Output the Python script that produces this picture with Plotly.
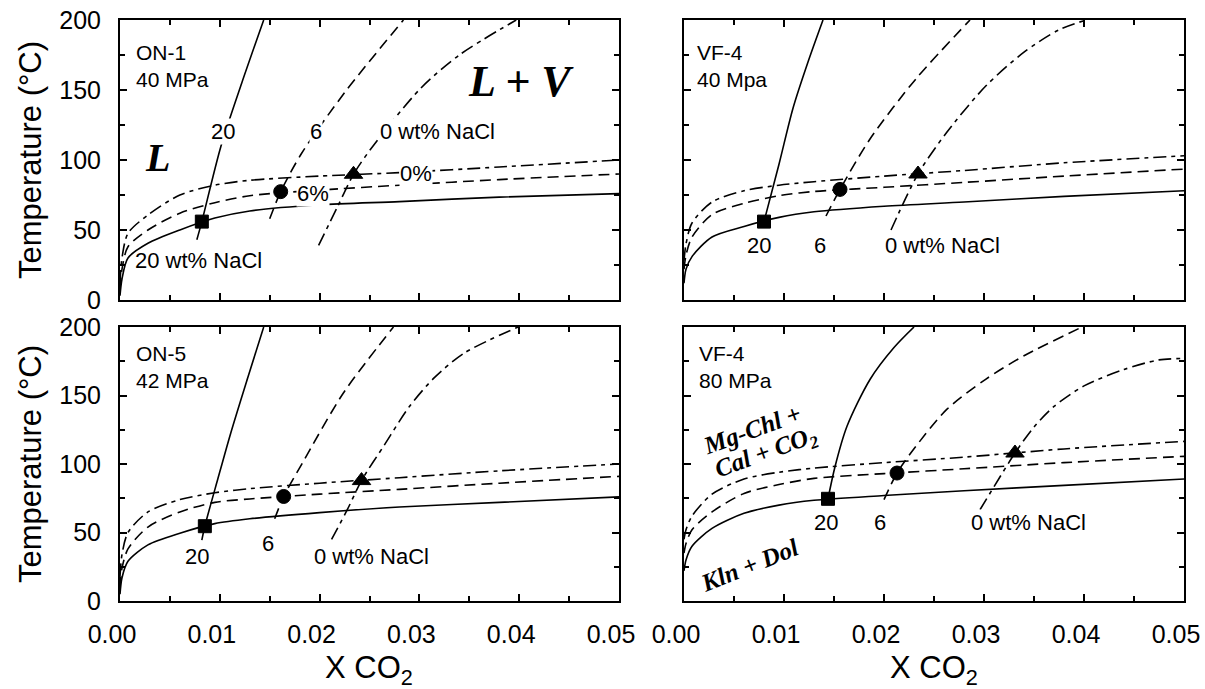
import plotly.graph_objects as go

# ---------------- data ----------------
# common X CO2 grid for the lower (reaction) curves
xb = [0.0, 0.0002, 0.0008, 0.0028, 0.006, 0.0095, 0.013, 0.02, 0.028, 0.038, 0.05]

# ON-1, 40 MPa
on1_low20 = [3, 15, 30, 40.5, 50, 58.5, 63.6, 68, 70.3, 73.5, 76]
on1_low6 = [8, 22, 38, 50, 62, 69.5, 74.5, 78.5, 82, 86, 90]
on1_low0 = [12, 30, 47.6, 60.7, 75, 82, 85.5, 88.5, 91, 95, 100]
on1_iso20_x = [0.0077, 0.0082, 0.0101, 0.0122, 0.0144]
on1_iso20_t = [43, 56, 109.5, 155, 200]
on1_iso6_x = [0.0150, 0.0161, 0.0182, 0.0226, 0.0284]
on1_iso6_t = [58, 77.4, 104.8, 149, 200]
on1_iso0_x = [0.0199, 0.0218, 0.0234, 0.0253, 0.0301, 0.0340, 0.0397]
on1_iso0_t = [39, 66.7, 89.8, 109.5, 151, 175, 200]
on1_pts_x = [0.0082, 0.0161, 0.0234]
on1_pts_t = [56, 77.4, 89.8]

# VF-4, 40 MPa
vf40_low20 = [12, 22, 31, 45, 52.5, 59, 63, 67, 70, 74, 78]
vf40_low6 = [22, 32, 45, 61, 69, 74.5, 77.5, 80.5, 84, 88.5, 93.5]
vf40_low0 = [28, 40, 55, 70, 78, 82, 84.5, 88.5, 92.5, 98, 103]
vf40_iso20_x = [0.0080, 0.0095, 0.0109, 0.0124, 0.0139]
vf40_iso20_t = [56, 97, 137, 170, 200]
vf40_iso6_x = [0.0142, 0.0156, 0.0186, 0.0232, 0.0286]
vf40_iso6_t = [60, 79, 115, 158, 200]
vf40_iso0_x = [0.0207, 0.0234, 0.0263, 0.0302, 0.0340, 0.0375, 0.0402]
vf40_iso0_t = [50, 90, 120, 153, 177, 193, 200]
vf40_pts_x = [0.0080, 0.0156, 0.0234]
vf40_pts_t = [56, 79, 90]

# ON-5, 42 MPa
on5_low20 = [5, 17, 29, 41, 49.5, 56.5, 60, 64.5, 68.6, 72, 76]
on5_low6 = [10, 24, 38, 54, 65, 72, 74.5, 78, 81.5, 86, 91]
on5_low0 = [18, 34, 50, 65, 74, 79, 82, 86, 90, 95, 100]
on5_iso20_x = [0.0082, 0.0085, 0.0098, 0.0111, 0.0128, 0.0144]
on5_iso20_t = [44.5, 54.6, 89, 122.7, 163, 200]
on5_iso6_x = [0.0155, 0.0164, 0.0183, 0.0224, 0.0274]
on5_iso6_t = [60, 76.3, 101, 152, 200]
on5_iso0_x = [0.0212, 0.0228, 0.0242, 0.0265, 0.0290, 0.0315, 0.0345, 0.0399]
on5_iso0_t = [45, 67, 87.9, 114, 142, 163, 181, 200]
on5_pts_x = [0.0085, 0.0164, 0.0242]
on5_pts_t = [54.6, 76.3, 87.9]

# VF-4, 80 MPa
vf80_low20 = [22, 30, 40, 53, 64, 70, 73.5, 77, 80.5, 84.4, 89]
vf80_low6 = [35, 42, 52, 65, 78.5, 85, 89.5, 93, 96.5, 101, 105.6]
vf80_low0 = [45, 52, 62, 78, 89, 94, 97, 101, 105, 111, 116.5]
vf80_iso20_x = [0.0144, 0.0151, 0.0163, 0.0186, 0.0210, 0.0230]
vf80_iso20_t = [74.6, 98, 127.5, 161.7, 185, 200]
vf80_iso6_x = [0.0200, 0.0213, 0.0232, 0.0263, 0.0302, 0.0340, 0.0398]
vf80_iso6_t = [74, 93.4, 113, 140, 162, 179, 200]
vf80_iso0_x = [0.0296, 0.0331, 0.0350, 0.0370, 0.0400, 0.0440, 0.0475, 0.0500]
vf80_iso0_t = [66.6, 108, 127, 142, 157, 169, 176, 177]
vf80_pts_x = [0.0144, 0.0213, 0.0331]
vf80_pts_t = [74.6, 93.4, 108]

x_ticks = [0.0, 0.01, 0.02, 0.03, 0.04, 0.05]
y_ticks = [0, 50, 100, 150, 200]

# ---------------- styling ----------------
SANS = "Liberation Sans, Arial, Helvetica, sans-serif"
SERIF = "Liberation Serif, Times New Roman, serif"
DASH = "11px,6px"
DASHDOT = "13px,5px,4px,5px"
LW = 1.6

# panel domains (paper fractions)
XL = [120 / 1205, 619 / 1205]
XR = [684 / 1205, 1184 / 1205]
YT = [1 - 300 / 689, 1 - 20 / 689]
YB = [1 - 601 / 689, 1 - 327 / 689]

panels = [
    ("", XL, YT, False, True,
     (on1_low20, on1_low6, on1_low0, on1_iso20_x, on1_iso20_t, on1_iso6_x, on1_iso6_t,
      on1_iso0_x, on1_iso0_t, on1_pts_x, on1_pts_t)),
    ("2", XR, YT, False, False,
     (vf40_low20, vf40_low6, vf40_low0, vf40_iso20_x, vf40_iso20_t, vf40_iso6_x, vf40_iso6_t,
      vf40_iso0_x, vf40_iso0_t, vf40_pts_x, vf40_pts_t)),
    ("3", XL, YB, True, True,
     (on5_low20, on5_low6, on5_low0, on5_iso20_x, on5_iso20_t, on5_iso6_x, on5_iso6_t,
      on5_iso0_x, on5_iso0_t, on5_pts_x, on5_pts_t)),
    ("4", XR, YB, True, False,
     (vf80_low20, vf80_low6, vf80_low0, vf80_iso20_x, vf80_iso20_t, vf80_iso6_x, vf80_iso6_t,
      vf80_iso0_x, vf80_iso0_t, vf80_pts_x, vf80_pts_t)),
]

fig = go.Figure()
layout = dict(
    width=1205, height=689,
    margin=dict(l=0, r=0, t=0, b=0),
    paper_bgcolor="white", plot_bgcolor="white",
    showlegend=False,
    font=dict(family=SANS, color="black"),
)


def line(xs, ys, dash, xa, ya):
    return go.Scatter(x=xs, y=ys, mode="lines", xaxis=xa, yaxis=ya,
                      line=dict(color="black", width=LW, dash=dash, shape="spline", smoothing=0.8),
                      hoverinfo="skip")


for suf, xd, yd, showx, showy, d in panels:
    xa, ya = "x" + suf, "y" + suf
    (l20, l6, l0, i20x, i20t, i6x, i6t, i0x, i0t, px, pt) = d
    fig.add_trace(line(xb, l20, "solid", xa, ya))
    fig.add_trace(line(xb, l6, DASH, xa, ya))
    fig.add_trace(line(xb, l0, DASHDOT, xa, ya))
    fig.add_trace(line(i20x, i20t, "solid", xa, ya))
    fig.add_trace(line(i6x, i6t, DASH, xa, ya))
    fig.add_trace(line(i0x, i0t, DASHDOT, xa, ya))
    fig.add_trace(go.Scatter(x=px, y=pt, mode="markers", xaxis=xa, yaxis=ya,
                             marker=dict(symbol=["square", "circle", "triangle-up"],
                                         size=[13, 14, 16], color="black", opacity=1,
                                         line=dict(color="black", width=1)),
                             cliponaxis=False, hoverinfo="skip"))
    layout["xaxis" + suf] = dict(
        domain=xd, anchor=ya, range=[0, 0.05], tickvals=x_ticks, tickformat=".2f",
        ticks="inside", ticklen=7, tickwidth=1.5, tickcolor="black",
        minor=dict(dtick=0.005, tick0=0, ticks="inside", ticklen=5, tickwidth=1.5, tickcolor="black"),
        showline=True, linewidth=2, linecolor="black", mirror="allticks",
        showgrid=False, zeroline=False, showticklabels=showx, automargin=False,
        tickfont=dict(size=25, family=SANS, color="black"),
        ticklabelstandoff=10, ticklabelshift=-8,
    )
    layout["yaxis" + suf] = dict(
        domain=yd, anchor=xa, range=[0, 200], tickvals=y_ticks,
        ticks="inside", ticklen=7, tickwidth=1.5, tickcolor="black",
        minor=dict(dtick=25, tick0=0, ticks="inside", ticklen=5, tickwidth=1.5, tickcolor="black"),
        showline=True, linewidth=2, linecolor="black", mirror="allticks",
        showgrid=False, zeroline=False, showticklabels=showy, automargin=False,
        tickfont=dict(size=25, family=SANS, color="black"),
        ticklabelstandoff=12,
    )

fig.update_layout(**layout)


def ann(text, x, y, xa, ya, size=22, family=SANS, bg=None, xanchor="center", yanchor="middle",
        angle=0, align="center"):
    a = dict(text=text, x=x, y=y, xref=xa, yref=ya, showarrow=False,
             font=dict(size=size, family=family, color="black"),
             xanchor=xanchor, yanchor=yanchor, textangle=angle, align=align, borderpad=0)
    if bg:
        a["bgcolor"] = bg
    fig.add_annotation(**a)


W = "white"
# ON-1
ann("ON-1<br>40 MPa", 0.0015, 167, "x", "y", size=21, xanchor="left", align="left")
ann("<b><i>L</i></b>", 0.0038, 102, "x", "y", size=40, family=SERIF)
ann("<b><i>L + V</i></b>", 0.0402, 156, "x", "y", size=44, family=SERIF)
ann("20", 0.0103, 120, "x", "y", bg=W)
ann("6", 0.0196, 120, "x", "y", bg=W)
ann("0 wt% NaCl", 0.0318, 120, "x", "y", bg=W)
ann("6%", 0.0193, 76, "x", "y", bg=W)
ann("0%", 0.0297, 90, "x", "y", bg=W)
ann("20 wt% NaCl", 0.0079, 28, "x", "y")

# VF-4 40 MPa
ann("VF-4<br>40 Mpa", 0.0012, 167, "x2", "y2", size=21, xanchor="left", align="left")
ann("20", 0.0075, 38.6, "x2", "y2", bg=W)
ann("6", 0.0136, 38.6, "x2", "y2", bg=W)
ann("0 wt% NaCl", 0.0258, 38.6, "x2", "y2", bg=W)

# ON-5 42 MPa
ann("ON-5<br>42 MPa", 0.0015, 171, "x3", "y3", size=21, xanchor="left", align="left")
ann("20", 0.0077, 32.5, "x3", "y3", bg=W)
ann("6", 0.0148, 42, "x3", "y3", bg=W)
ann("0 wt% NaCl", 0.0252, 32.5, "x3", "y3", bg=W)

# VF-4 80 MPa
ann("VF-4<br>80 MPa", 0.0014, 171, "x4", "y4", size=21, xanchor="left", align="left")
ann("20", 0.01415, 57.3, "x4", "y4", bg=W)
ann("6", 0.0196, 57.3, "x4", "y4", bg=W)
ann("0 wt% NaCl", 0.0344, 57.3, "x4", "y4", bg=W)
ann("<b><i>Mg-Chl +</i></b>", 0.0068, 125, "x4", "y4", size=25, family=SERIF, angle=-20)
ann("<b><i>Cal + CO<sub>2</sub></i></b>", 0.0082, 108, "x4", "y4", size=25, family=SERIF, angle=-20)
ann("<b><i>Kln + Dol</i></b>", 0.0065, 26, "x4", "y4", size=25, family=SERIF, angle=-22)

# axis titles
for yc in [(YT[0] + YT[1]) / 2, (YB[0] + YB[1]) / 2]:
    fig.add_annotation(text="Temperature (°C)", x=30 / 1205, y=yc, xref="paper", yref="paper",
                       showarrow=False, textangle=-90, font=dict(size=31, family=SANS, color="black"),
                       xanchor="center", yanchor="middle")
for xc in [(XL[0] + XL[1]) / 2, (XR[0] + XR[1]) / 2]:
    fig.add_annotation(text="X CO<sub>2</sub>", x=xc, y=1 - 670 / 689, xref="paper", yref="paper",
                       showarrow=False, font=dict(size=31, family=SANS, color="black"),
                       xanchor="center", yanchor="middle")

fig.write_html("out.html")
